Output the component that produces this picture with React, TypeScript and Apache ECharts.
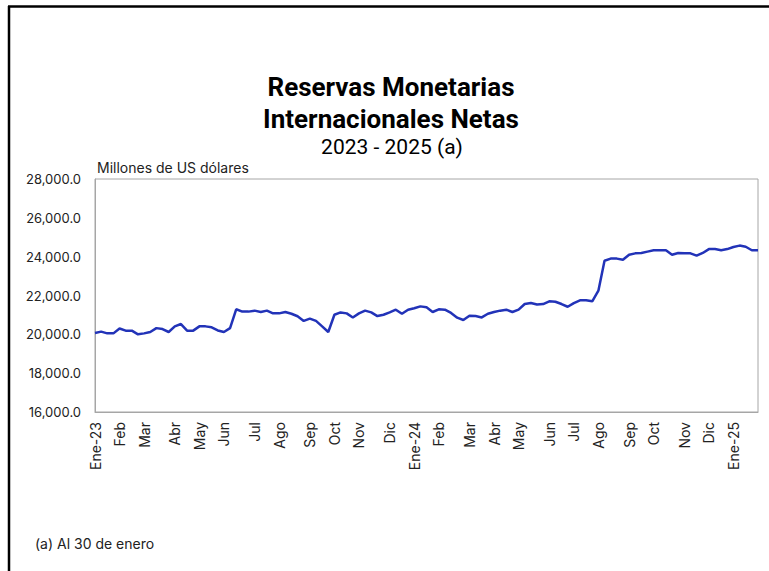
import React, { useEffect, useRef } from "react";
import * as echarts from "echarts";

const monthLabels = [
  "Ene-23", "Feb", "Mar", "Abr", "May", "Jun", "Jul", "Ago", "Sep", "Oct", "Nov", "Dic",
  "Ene-24", "Feb", "Mar", "Abr", "May", "Jun", "Jul", "Ago", "Sep", "Oct", "Nov", "Dic",
  "Ene-25",
];
// number of weekly observations (Thursdays) in each month
const weeksPerMonth = [
  4, 4, 5, 4, 4, 5, 4, 5, 4, 4, 5, 4,
  4, 5, 4, 4, 5, 4, 4, 5, 4, 5, 4, 4,
  5,
];
// Reservas Monetarias Internacionales Netas, millones de US dólares (weekly)
const reservas = [
  20070, 20140, 20050, 20050, 20300, 20190, 20190, 20000, 20050, 20120,
  20320, 20270, 20120, 20410, 20530, 20190, 20190, 20410, 20410, 20360,
  20200, 20120, 20320, 21290, 21170, 21170, 21220, 21150, 21220, 21080,
  21080, 21150, 21060, 20930, 20690, 20810, 20690, 20410, 20120, 21010,
  21130, 21080, 20870, 21080, 21220, 21130, 20940, 21010, 21130, 21270,
  21060, 21270, 21340, 21440, 21390, 21150, 21290, 21270, 21100, 20860,
  20740, 20960, 20940, 20870, 21060, 21150, 21220, 21270, 21150, 21270,
  21560, 21610, 21540, 21560, 21700, 21680, 21560, 21420, 21610, 21750,
  21750, 21700, 22250, 23790, 23900, 23900, 23840, 24100, 24170, 24190,
  24260, 24330, 24330, 24330, 24100, 24190, 24170, 24170, 24050, 24190,
  24390, 24390, 24330, 24390, 24500, 24570, 24510, 24330, 24330,
];
const yMin = 16000;
const yMax = 28000;
const yStep = 2000;

const titleLines = ["Reservas Monetarias", "Internacionales Netas"];
const subtitle = "2023 - 2025 (a)";
const unitLabel = "Millones de US dólares";
const footnote = "(a) Al 30 de enero";

const categories: string[] = [];
const labelIndexes = new Set<number>();
monthLabels.forEach((m, mi) => {
  for (let w = 0; w < weeksPerMonth[mi]; w++) {
    if (w === 0) labelIndexes.add(categories.length);
    categories.push(m + "#" + w);
  }
});

function fmt(v: number): string {
  const s = Math.round(v).toString().replace(/\B(?=(\d{3})+(?!\d))/g, ",");
  return s + ".0";
}

const FONT = "Inter";
const TITLE_FONT = "Roboto";

export default function App() {
  const ref = useRef<HTMLDivElement>(null);
  useEffect(() => {
    if (!ref.current) return;
    const chart = echarts.init(ref.current, null, { renderer: "svg" });
    chart.setOption({
      animation: false,
      backgroundColor: "#ffffff",
      textStyle: { fontFamily: FONT },
      grid: {
        left: 95,
        top: 179,
        right: 11,
        bottom: 159,
        show: true,
        borderColor: "#a6a6a6",
        borderWidth: 1,
        containLabel: false,
      },
      xAxis: {
        type: "category",
        data: categories,
        boundaryGap: false,
        axisLine: { show: true, lineStyle: { color: "#a6a6a6", width: 1 } },
        axisTick: { show: false },
        splitLine: { show: false },
        axisLabel: {
          rotate: 90,
          margin: 10,
          interval: (index: number) => labelIndexes.has(index),
          formatter: (v: string) => v.split("#")[0],
          color: "#222222",
          fontSize: 14,
          fontFamily: FONT,
        },
      },
      yAxis: {
        type: "value",
        min: yMin,
        max: yMax,
        interval: yStep,
        axisLine: { show: true, lineStyle: { color: "#a6a6a6", width: 1 } },
        axisTick: { show: false },
        splitLine: { show: false },
        axisLabel: {
          margin: 14,
          formatter: (v: number) => fmt(v),
          color: "#222222",
          fontSize: 13,
          fontFamily: FONT,
        },
      },
      series: [
        {
          type: "line",
          data: reservas,
          symbol: "none",
          lineStyle: { color: "#2233b8", width: 2.5 },
          itemStyle: { color: "#2233b8" },
        },
      ],
      graphic: [
        { type: "line", shape: { x1: 9, y1: 6, x2: 9, y2: 571 }, style: { stroke: "#000", lineWidth: 2.5 } },
        { type: "line", shape: { x1: 8, y1: 6.5, x2: 769, y2: 6.5 }, style: { stroke: "#000", lineWidth: 2.5 } },
        {
          type: "text",
          x: 391,
          y: 87,
          style: {
            text: titleLines[0],
            fontFamily: TITLE_FONT,
            fontWeight: "bold",
            fontSize: 26,
            fill: "#000",
            textAlign: "center",
            textVerticalAlign: "middle",
          },
        },
        {
          type: "text",
          x: 391,
          y: 119,
          style: {
            text: titleLines[1],
            fontFamily: TITLE_FONT,
            fontWeight: "bold",
            fontSize: 26,
            fill: "#000",
            textAlign: "center",
            textVerticalAlign: "middle",
          },
        },
        {
          type: "text",
          x: 392,
          y: 147,
          style: {
            text: subtitle,
            fontFamily: TITLE_FONT,
            fontSize: 21,
            fill: "#000",
            textAlign: "center",
            textVerticalAlign: "middle",
          },
        },
        {
          type: "text",
          x: 97,
          y: 167,
          style: {
            text: unitLabel,
            fontFamily: FONT,
            fontSize: 14,
            fill: "#222",
            textAlign: "left",
            textVerticalAlign: "middle",
          },
        },
        {
          type: "text",
          x: 35,
          y: 543,
          style: {
            text: footnote,
            fontFamily: FONT,
            fontSize: 14,
            fill: "#222",
            textAlign: "left",
            textVerticalAlign: "middle",
          },
        },
      ],
    });
    return () => chart.dispose();
  }, []);
  return (
    <div
      ref={ref}
      style={{ position: "absolute", left: 0, top: 0, width: 769, height: 571, background: "#fff" }}
    />
  );
}
